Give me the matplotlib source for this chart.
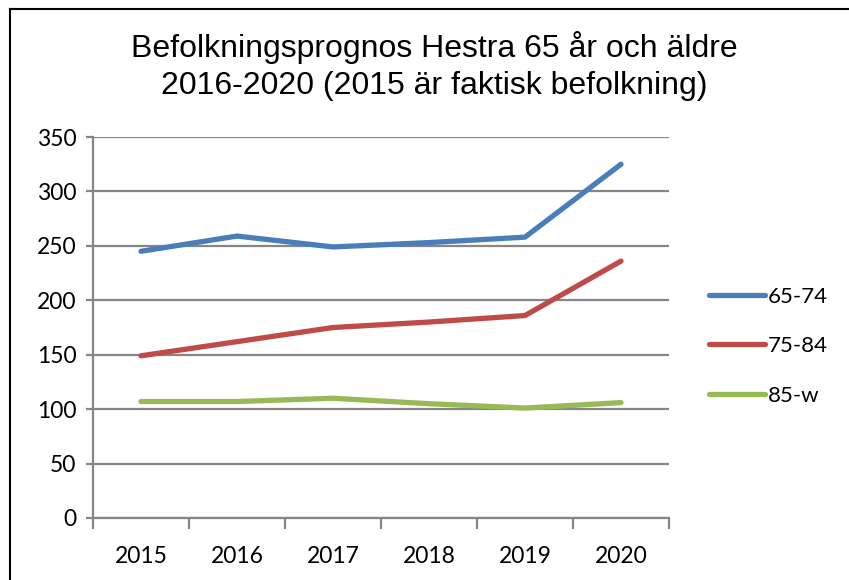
import matplotlib.pyplot as plt
from matplotlib.lines import Line2D

# data
years = ['2015', '2016', '2017', '2018', '2019', '2020']
age_65_74 = [245, 259, 249, 253, 258, 325]
age_75_84 = [149, 162, 175, 180, 186, 236]
age_85_w = [107, 107, 110, 105, 101, 106]
series_names = ['65-74', '75-84', '85-w']
colors = ['#4A7EBB', '#BE4B48', '#98B954']
yticks = [0, 50, 100, 150, 200, 250, 300, 350]

fig = plt.figure(figsize=(8.49, 5.80), dpi=100)
ax = fig.add_axes([93 / 849, 62 / 580, 576 / 849, 381 / 580])

x = list(range(len(years)))
for vals, col, name in zip([age_65_74, age_75_84, age_85_w], colors, series_names):
    ax.plot(x, vals, color=col, lw=3.8, solid_capstyle='round', solid_joinstyle='round', label=name, zorder=3)

ax.set_xlim(-0.5, len(years) - 0.5)
ax.set_ylim(0, 350)
ax.set_yticks(yticks)
ax.set_yticklabels([str(v) for v in yticks], fontsize=16.5, family='Lato')
ax.set_xticks(x)
ax.set_xticklabels(years, fontsize=16.5, family='Lato')
ax.set_xticks([i - 0.5 for i in range(len(years) + 1)], minor=True)

# Excel style axes: grid, ticks outside
ax.grid(axis='y', color='#868686', lw=1.6, zorder=1)
for s in ['top', 'right']:
    ax.spines[s].set_visible(False)
ax.spines['left'].set_color('#868686')
ax.spines['bottom'].set_color('#868686')
ax.spines['left'].set_linewidth(1.6)
ax.spines['bottom'].set_linewidth(1.6)
ax.tick_params(axis='y', length=5, width=1.6, color='#868686', pad=7)
ax.tick_params(axis='x', which='major', length=0, pad=20)
ax.tick_params(axis='x', which='minor', length=8, width=1.6, color='#868686')

fig.text(434 / 849, 1 - 66 / 580, 'Befolkningsprognos Hestra 65 år och äldre\n2016-2020 (2015 är faktisk befolkning)',
         ha='center', va='center', fontsize=23, family='Liberation Sans', linespacing=1.32)

leg = ax.legend(loc='center left', bbox_to_anchor=(1.035, 0.451), frameon=False,
                prop={'family': 'Lato', 'size': 16}, handlelength=2.5, handletextpad=0.15, labelspacing=1.32)

# frame around the chart (only top and left edges are visible in the picture)
fig.add_artist(Line2D([10 / 849, 1], [1 - 9 / 580, 1 - 9 / 580], color='black', lw=1.5, transform=fig.transFigure))
fig.add_artist(Line2D([10 / 849, 10 / 849], [0, 1 - 9 / 580], color='black', lw=1.5, transform=fig.transFigure))

fig.savefig('out.png', dpi=100)
